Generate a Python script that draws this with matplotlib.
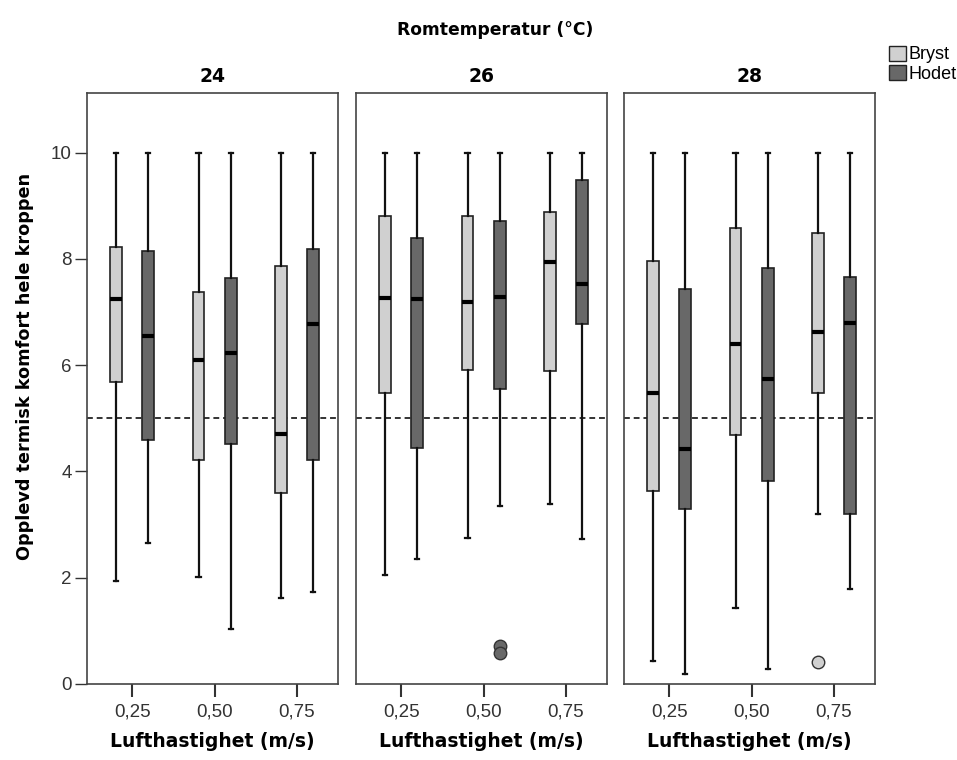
import matplotlib
matplotlib.use("Agg")
import matplotlib.pyplot as plt
from matplotlib.patches import Patch

plt.rcParams['font.family'] = ['Liberation Sans', 'DejaVu Sans']

# romtemperatur panels
temperaturer = ["24", "26", "28"]
hastigheter = ["0,25", "0,50", "0,75"]
grupper = ["Bryst", "Hodet"]
farger = {"Bryst": "#d0d0d0", "Hodet": "#686868"}

# (whislo, q1, med, q3, whishi) per panel, per hastighet, for Bryst / Hodet
bryst = [
    [(1.93, 5.68, 7.24, 8.23, 10), (2.02, 4.21, 6.09, 7.38, 10), (1.62, 3.59, 4.70, 7.87, 10)],
    [(2.06, 5.47, 7.27, 8.80, 10), (2.75, 5.91, 7.18, 8.80, 10), (3.38, 5.88, 7.94, 8.89, 10)],
    [(0.43, 3.64, 5.48, 7.96, 10), (1.43, 4.69, 6.40, 8.58, 10), (3.20, 5.48, 6.62, 8.49, 10)],
]
hodet = [
    [(2.66, 4.60, 6.54, 8.15, 10), (1.03, 4.52, 6.22, 7.64, 10), (1.74, 4.21, 6.77, 8.18, 10)],
    [(2.35, 4.44, 7.25, 8.39, 10), (3.35, 5.55, 7.29, 8.72, 10), (2.73, 6.78, 7.52, 9.49, 10)],
    [(0.18, 3.29, 4.43, 7.43, 10), (0.28, 3.82, 5.74, 7.83, 10), (1.78, 3.19, 6.80, 7.66, 10)],
]
# outliers
bryst_ut = [[[], [], []], [[], [], []], [[], [], [0.41]]]
hodet_ut = [[[], [], []], [[], [0.72, 0.59], []], [[], [], []]]

fet = dict(family="DejaVu Sans", fontweight="bold")

fig = plt.figure(figsize=(9.57, 7.6), dpi=100)
venstre = [87 / 957, 356 / 957, 624 / 957]
bredde = 251 / 957
bunn = 1 - 684 / 760
hoyde = (684 - 93) / 760

for p in range(3):
    ax = fig.add_axes([venstre[p], bunn, bredde, hoyde])
    for navn, data, ut, dx in [("Bryst", bryst, bryst_ut, -0.195), ("Hodet", hodet, hodet_ut, 0.195)]:
        stats = []
        for i in range(3):
            lo, q1, med, q3, hi = data[p][i]
            stats.append(dict(whislo=lo, q1=q1, med=med, q3=q3, whishi=hi, fliers=ut[p][i]))
        ax.bxp(stats, positions=[i + dx for i in range(3)], widths=0.145,
               capwidths=0.05, patch_artist=True, manage_ticks=False,
               boxprops=dict(facecolor=farger[navn], edgecolor="#222222", linewidth=1.2),
               medianprops=dict(color="black", linewidth=3),
               whiskerprops=dict(color="#111111", linewidth=1.6),
               capprops=dict(color="#111111", linewidth=1.6),
               flierprops=dict(marker="o", markerfacecolor=farger[navn],
                               markeredgecolor="#333333", markersize=9))
    ax.axhline(5, color="#333333", linestyle=(0, (3, 2)), linewidth=1.4, zorder=0.5)
    ax.set_xlim(-0.55, 2.5)
    ax.set_ylim(0, 11.12)
    ax.set_xticks(range(3))
    ax.set_xticklabels(hastigheter, fontsize=13.5, color="#333333")
    ax.tick_params(axis="x", length=9, width=1.5, color="#333333", pad=5)
    if p == 0:
        ax.set_yticks([0, 2, 4, 6, 8, 10])
        ax.tick_params(axis="y", length=9, width=1, color="#333333", labelsize=13.5,
                       labelcolor="#333333", pad=2)
        ax.set_ylabel("Opplevd termisk komfort hele kroppen", fontsize=12.7, **fet)
        ax.yaxis.set_label_coords(-0.21, 0.538)
    else:
        ax.set_yticks([])
    for s in ax.spines.values():
        s.set_color("#444444")
        s.set_linewidth(1.2)
    ax.set_title(temperaturer[p], fontsize=13.5, pad=8, **fet)
    ax.set_xlabel("Lufthastighet (m/s)", fontsize=13.5, labelpad=8, **fet)

fig.text(0.517, 0.96, "Romtemperatur (°C)", ha="center", va="center",
         fontsize=12.3, **fet)

handles = [Patch(facecolor=farger[g], edgecolor="#222222", label=g) for g in grupper]
fig.legend(handles=handles, loc="upper left", bbox_to_anchor=(0.929, 0.94),
           frameon=False, fontsize=13, handlelength=0.95, handleheight=0.9,
           handletextpad=0.1, labelspacing=0.12, borderaxespad=0, borderpad=0)

fig.savefig("out.png", dpi=100)
